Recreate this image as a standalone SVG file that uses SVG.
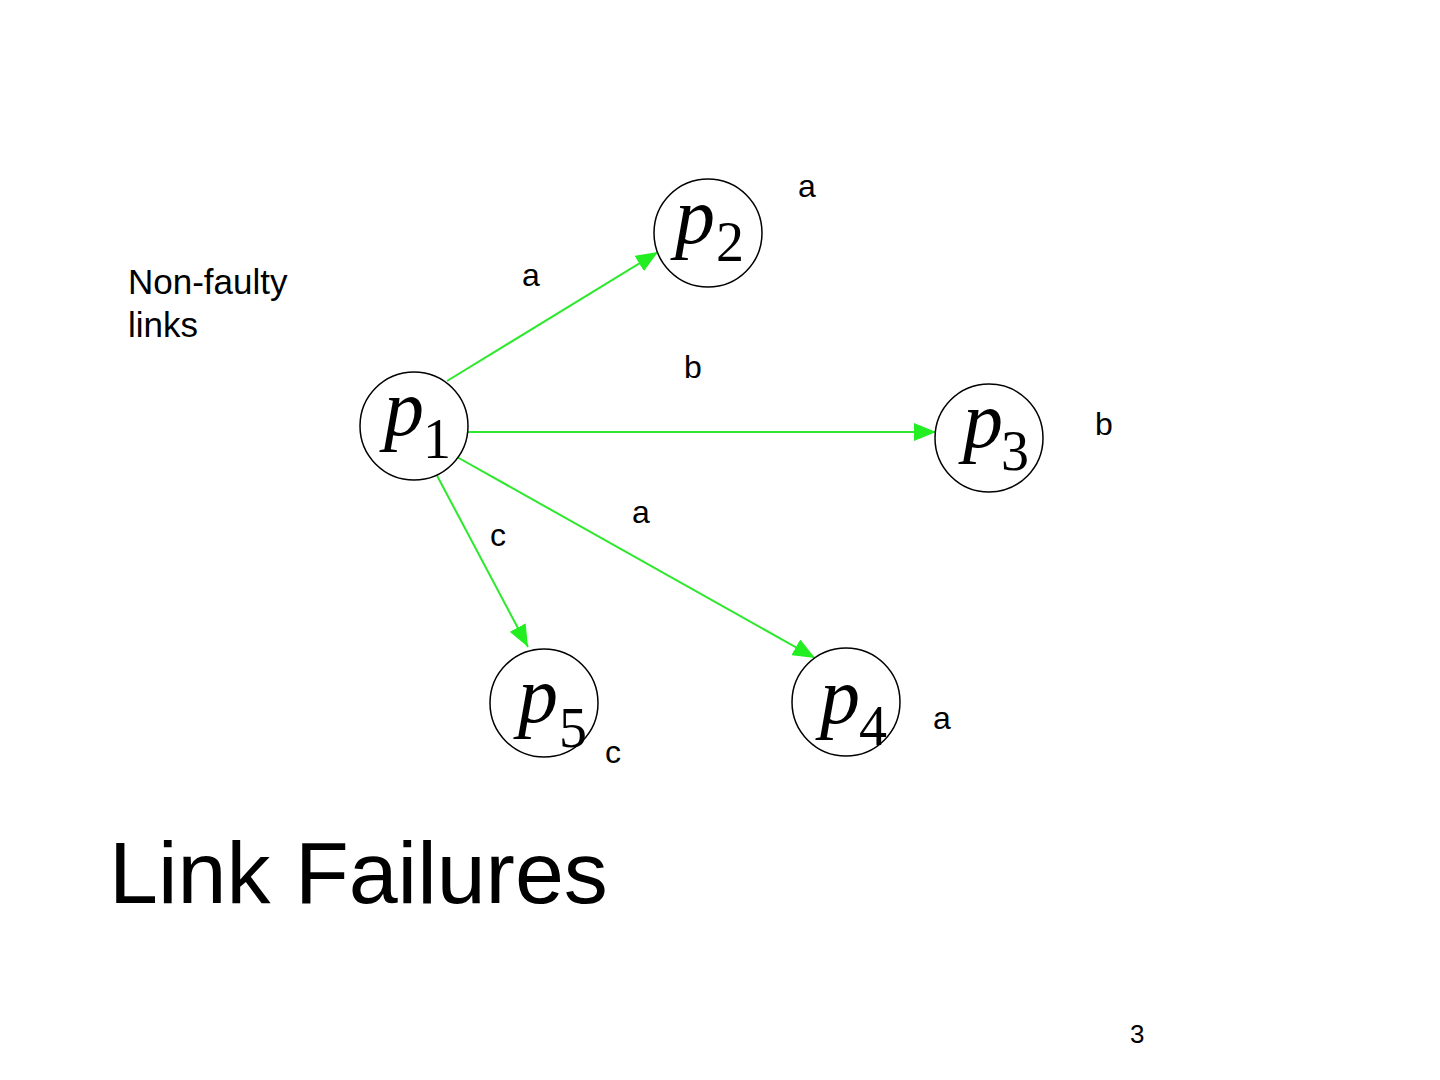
<svg xmlns="http://www.w3.org/2000/svg" width="1440" height="1080" viewBox="0 0 1440 1080">
<style>
.node{fill:#fff;stroke:#000;stroke-width:1.5}
.pv{font-family:"Liberation Serif",serif;font-style:italic;font-size:80px;fill:#000}
.sub{font-family:"Liberation Serif",serif;font-size:56px;fill:#000}
.lbl{font-family:"Liberation Sans",Arial,sans-serif;font-size:32px;fill:#000}
.side{font-family:"Liberation Sans",Arial,sans-serif;font-size:35px;fill:#000}
.edge{stroke:#2ee82e;stroke-width:2;fill:none;marker-end:url(#ah)}
</style>
<defs>
<marker id="ah" viewBox="0 0 22 18" refX="22" refY="9" markerWidth="22" markerHeight="18" markerUnits="userSpaceOnUse" orient="auto">
<path d="M0,0 L22,9 L0,18 Z" fill="#22ee22"/>
</marker>
</defs>
<rect width="1440" height="1080" fill="#fff"/>
<g id="connectors">
<line class="edge" x1="447" y1="381" x2="658" y2="252"/>
<line class="edge" x1="468" y1="432" x2="936" y2="432"/>
<line class="edge" x1="457" y1="457" x2="815" y2="658"/>
<line class="edge" x1="433" y1="468" x2="528" y2="647"/>
</g>
<g id="p1"><circle class="node" cx="414" cy="426" r="54"/><text class="pv" x="384" y="435">p</text><text class="sub" x="423" y="458">1</text></g>
<g id="p2"><circle class="node" cx="708" cy="233" r="54"/><text class="pv" x="675" y="243">p</text><text class="sub" x="716" y="261">2</text></g>
<g id="p3"><circle class="node" cx="989" cy="438" r="54"/><text class="pv" x="963" y="447">p</text><text class="sub" x="1001" y="470">3</text></g>
<g id="p5"><circle class="node" cx="544" cy="703" r="54"/><text class="pv" x="518" y="722">p</text><text class="sub" x="559" y="747">5</text></g>
<g id="p4"><circle class="node" cx="846" cy="702" r="54"/><text class="pv" x="820" y="723">p</text><text class="sub" x="859" y="745">4</text></g>
<g id="labels">
<text class="lbl" x="798" y="197">a</text>
<text class="lbl" x="522" y="286">a</text>
<text class="lbl" x="684" y="378">b</text>
<text class="lbl" x="1095" y="435">b</text>
<text class="lbl" x="632" y="523">a</text>
<text class="lbl" x="490" y="546">c</text>
<text class="lbl" x="933" y="729">a</text>
<text class="lbl" x="605" y="763">c</text>
<text class="side" x="128" y="294">Non-faulty</text>
<text class="side" x="128" y="337">links</text>
<text x="109" y="903" style="font-family:'Liberation Sans',Arial,sans-serif;font-size:88px;fill:#000">Link Failures</text>
<text x="1130" y="1043" style="font-family:'Liberation Sans',Arial,sans-serif;font-size:26px;fill:#000">3</text>
</g>
</svg>
